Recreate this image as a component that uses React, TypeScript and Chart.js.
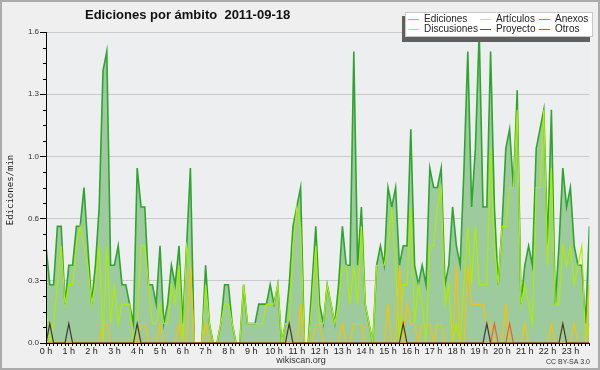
import React, { useEffect, useRef } from "react";
import { Chart, registerables } from "chart.js";

Chart.register(...registerables);

// One value per 10-minute slot (edits in the slot); shown as edits/min (slot / 10).
const HOUR_LABELS = [
  "0 h", "1 h", "2 h", "3 h", "4 h", "5 h", "6 h", "7 h", "8 h", "9 h", "10 h", "11 h",
  "12 h", "13 h", "14 h", "15 h", "16 h", "17 h", "18 h", "19 h", "20 h", "21 h", "22 h", "23 h",
];
const SLOTS_PER_HOUR = 6;
const Y_TICKS = [0, 0.32, 0.64, 0.96, 1.28, 1.6];
const Y_TICK_LABELS = ["0.0", "0.3", "0.6", "1.0", "1.3", "1.6"];

const ediciones = [
  5, 3, 3, 6, 6, 2, 4, 4, 6, 6,
  8, 5, 2, 4, 7, 14, 15, 4, 4, 5,
  3, 3, 2, 1, 9, 7, 7, 3, 3, 2,
  5, 1, 2, 4, 3, 5, 1, 5, 9, 0,
  0, 0, 4, 1, 0, 0, 1, 3, 3, 1,
  0, 0, 3, 1, 1, 1, 2, 2, 2, 3,
  2, 3, 0, 1, 3, 6, 7, 8, 0, 0,
  3, 6, 2, 1, 3, 2, 1, 3, 6, 4,
  4, 15, 4, 7, 2, 1, 0, 4, 5, 4,
  8, 7, 8, 4, 5, 5, 11, 4, 3, 4,
  3, 9, 8, 8, 9, 3, 4, 7, 5, 4,
  9, 15, 7, 10, 16, 7, 7, 15, 7, 3,
  6, 10, 11, 8, 13, 2, 4, 5, 4, 10,
  11, 12, 5, 12, 2, 5, 9, 7, 8, 5,
  4, 4, 1, 6,
];
const articulos = [
  2, 0, 1, 3, 5, 2, 3, 3, 5, 6,
  5, 4, 2, 3, 5, 0, 5, 1, 3, 1,
  2, 2, 2, 0, 1, 5, 5, 3, 1, 1,
  2, 1, 1, 3, 2, 4, 0, 5, 4, 0,
  0, 0, 3, 1, 0, 0, 1, 2, 2, 1,
  0, 0, 3, 1, 1, 1, 1, 1, 2, 2,
  2, 3, 0, 1, 1, 5, 7, 6, 0, 0,
  2, 5, 1, 1, 3, 2, 1, 2, 4, 4,
  2, 4, 2, 6, 2, 1, 0, 4, 4, 4,
  5, 7, 4, 0, 3, 3, 7, 1, 3, 2,
  0, 5, 5, 7, 8, 2, 3, 0, 1, 0,
  3, 6, 3, 6, 3, 3, 3, 10, 5, 3,
  6, 6, 8, 8, 12, 2, 3, 2, 1, 8,
  8, 12, 4, 9, 2, 2, 5, 4, 5, 3,
  4, 5, 0, 1,
];
const discusiones = [
  0, 0, 0, 0, 0, 0, 0, 0, 0, 0,
  0, 0, 0, 0, 0, 1, 1, 0, 0, 0,
  0, 0, 0, 0, 0, 1, 1, 0, 0, 0,
  1, 0, 0, 0, 0, 1, 0, 0, 4, 0,
  0, 0, 1, 0, 0, 0, 0, 0, 0, 0,
  0, 0, 0, 0, 0, 0, 0, 0, 0, 0,
  0, 0, 0, 0, 1, 0, 0, 2, 0, 0,
  0, 1, 1, 0, 0, 0, 0, 0, 1, 0,
  0, 1, 1, 1, 0, 0, 0, 0, 0, 0,
  2, 0, 0, 4, 0, 2, 1, 1, 0, 1,
  1, 1, 0, 1, 1, 0, 0, 0, 4, 0,
  0, 4, 2, 2, 2, 2, 1, 1, 0, 0,
  0, 2, 0, 0, 0, 0, 1, 0, 0, 0,
  0, 0, 0, 1, 0, 0, 1, 0, 0, 1,
  0, 0, 0, 3,
];
const proyecto = [
  0, 1, 0, 0, 0, 0, 1, 0, 0, 0,
  0, 0, 0, 0, 0, 0, 0, 0, 0, 0,
  0, 0, 0, 0, 1, 0, 0, 0, 0, 0,
  0, 0, 0, 0, 0, 0, 0, 0, 0, 0,
  0, 0, 0, 0, 0, 0, 0, 0, 0, 0,
  0, 0, 0, 0, 0, 0, 0, 0, 0, 0,
  0, 0, 0, 0, 1, 0, 0, 0, 0, 0,
  0, 0, 0, 0, 0, 0, 0, 0, 0, 0,
  0, 0, 0, 0, 0, 0, 0, 0, 0, 0,
  0, 0, 0, 0, 1, 0, 0, 0, 0, 0,
  0, 0, 0, 0, 0, 0, 0, 0, 0, 0,
  0, 0, 0, 0, 0, 0, 1, 0, 0, 0,
  0, 0, 0, 0, 0, 0, 0, 0, 0, 0,
  0, 0, 0, 0, 0, 0, 1, 0, 0, 0,
  0, 0, 0, 0,
];
const anexos = [
  0, 0, 0, 0, 0, 0, 0, 0, 0, 0,
  0, 0, 0, 0, 0, 0, 0, 0, 0, 0,
  0, 0, 0, 0, 0, 0, 0, 0, 0, 0,
  0, 0, 0, 0, 0, 0, 0, 0, 0, 0,
  0, 0, 0, 0, 0, 0, 0, 0, 0, 0,
  0, 0, 0, 0, 0, 0, 0, 0, 0, 0,
  0, 0, 0, 0, 0, 0, 0, 0, 0, 0,
  0, 0, 0, 0, 0, 0, 0, 0, 0, 0,
  0, 0, 0, 0, 0, 0, 0, 0, 0, 0,
  0, 0, 0, 0, 0, 0, 0, 0, 0, 0,
  0, 0, 0, 0, 0, 0, 0, 0, 0, 0,
  0, 0, 0, 0, 0, 0, 0, 0, 1, 0,
  0, 0, 1, 0, 0, 0, 0, 0, 0, 0,
  0, 0, 0, 0, 0, 0, 0, 0, 0, 0,
  0, 0, 0, 0,
];
const otros = [
  0, 0, 0, 0, 0, 0, 0, 0, 0, 0,
  0, 0, 0, 0, 0, 0, 0, 0, 0, 0,
  0, 0, 0, 0, 0, 0, 0, 0, 0, 0,
  0, 0, 0, 0, 0, 0, 0, 0, 0, 0,
  0, 0, 0, 0, 0, 0, 0, 0, 0, 0,
  0, 0, 0, 0, 0, 0, 0, 0, 0, 0,
  0, 0, 0, 0, 0, 0, 0, 0, 0, 0,
  0, 0, 0, 0, 0, 0, 0, 0, 0, 0,
  0, 0, 0, 0, 0, 0, 0, 0, 0, 0,
  0, 0, 0, 0, 0, 0, 0, 0, 0, 0,
  0, 0, 0, 0, 0, 0, 0, 0, 0, 0,
  0, 0, 0, 0, 0, 0, 0, 0, 0, 0,
  0, 0, 0, 0, 0, 0, 0, 0, 0, 0,
  0, 0, 0, 0, 0, 0, 0, 0, 0, 0,
  0, 0, 0, 0,
];

const TITLE = "Ediciones por ámbito  2011-09-18";
const Y_TITLE = "Ediciones/min";
const FOOTER = "wikiscan.org";
const LICENSE = "CC BY-SA 3.0";

const SERIES = [
  { label: "Ediciones", data: ediciones, color: "#2ea52e", swatch: "#7ccc7c", width: 1.6, order: 9 },
  { label: "Artículos", data: articulos, color: "#aaee00", swatch: "#c4ee44", width: 1.2, order: 8 },
  { label: "Discusiones", data: discusiones, color: "#f5c400", swatch: "#f8d040", width: 1.2, order: 7 },
  { label: "Proyecto", data: proyecto, color: "#3a3a3a", swatch: "#555555", width: 1.2, order: 5 },
  { label: "Anexos", data: anexos, color: "#f06020", swatch: "#f07040", width: 1.2, order: 6 },
  { label: "Otros", data: otros, color: "#9040e0", swatch: "#9a4ee6", width: 1.2, order: 10 },
];
const LEGEND_ORDER = ["Ediciones", "Artículos", "Anexos", "Discusiones", "Proyecto", "Otros"];

const SANS = "'Liberation Sans', Arial, sans-serif";

const decorPlugin = {
  id: "decor",
  beforeDraw(chart: any) {
    const { ctx, width, height, chartArea: a } = chart;
    ctx.save();
    ctx.fillStyle = "#efefef";
    ctx.fillRect(0, 0, width, height);
    ctx.fillStyle = "#eceef0";
    ctx.fillRect(a.left, a.top, a.right - a.left, a.bottom - a.top);
    ctx.strokeStyle = "#ababab";
    ctx.lineWidth = 2;
    ctx.strokeRect(1, 1, width - 2, height - 2);
    ctx.restore();
  },
  afterDraw(chart: any) {
    const { ctx, chartArea: a } = chart;
    const ys = chart.scales.y;
    ctx.save();
    // y axis line over the fill
    ctx.strokeStyle = "#000";
    ctx.lineWidth = 1;
    ctx.beginPath();
    ctx.moveTo(Math.round(a.left) + 0.5, a.top);
    ctx.lineTo(Math.round(a.left) + 0.5, a.bottom);
    ctx.stroke();
    // minor y ticks (4 sub-steps per labelled step)
    for (let k = 0; k < Y_TICKS.length - 1; k++) {
      for (let s = 1; s < 4; s++) {
        const v = Y_TICKS[k] + ((Y_TICKS[k + 1] - Y_TICKS[k]) * s) / 4;
        const py = Math.round(ys.getPixelForValue(v)) + 0.5;
        ctx.beginPath();
        ctx.moveTo(a.left - 3, py);
        ctx.lineTo(a.left, py);
        ctx.stroke();
      }
    }
    // title
    ctx.fillStyle = "#111";
    ctx.font = `bold 13px ${SANS}`;
    ctx.textBaseline = "alphabetic";
    ctx.textAlign = "left";
    ctx.fillText(TITLE, 85, 19);
    // y title
    ctx.save();
    ctx.translate(11, 190);
    ctx.rotate(-Math.PI / 2);
    ctx.font = "9px 'DejaVu Sans Mono', monospace";
    ctx.textAlign = "center";
    ctx.textBaseline = "middle";
    ctx.fillStyle = "#222";
    ctx.fillText(Y_TITLE, 0, 0);
    ctx.restore();
    // footer
    ctx.font = `9px ${SANS}`;
    ctx.fillStyle = "#333";
    ctx.textAlign = "center";
    ctx.textBaseline = "middle";
    ctx.fillText(FOOTER, 301, 361);
    ctx.font = `7px ${SANS}`;
    ctx.textAlign = "right";
    ctx.fillText(LICENSE, 590, 362);
    // legend
    const bx = 405, by = 12, bw = 188, bh = 25;
    ctx.fillStyle = "#606060";
    ctx.fillRect(bx - 3, by + 4, bw, bh + 1);
    ctx.fillStyle = "#ffffff";
    ctx.fillRect(bx, by, bw, bh);
    ctx.strokeStyle = "#c8c8c8";
    ctx.lineWidth = 1;
    ctx.strokeRect(bx + 0.5, by + 0.5, bw - 1, bh - 1);
    const colX = [408, 480, 539];
    const rowY = [19, 29];
    ctx.font = `10px ${SANS}`;
    ctx.textAlign = "left";
    ctx.textBaseline = "middle";
    LEGEND_ORDER.forEach((name, idx) => {
      const s = SERIES.find((d) => d.label === name)!;
      const cx = colX[idx % 3];
      const cy = rowY[Math.floor(idx / 3)];
      ctx.strokeStyle = s.swatch;
      ctx.lineWidth = 1;
      ctx.beginPath();
      ctx.moveTo(cx, cy + 0.5);
      ctx.lineTo(cx + 11, cy + 0.5);
      ctx.stroke();
      ctx.fillStyle = "#222";
      ctx.fillText(name, cx + 16, cy + 0.5);
    });
    ctx.restore();
  },
};

export default function App() {
  const ref = useRef<HTMLCanvasElement>(null);
  useEffect(() => {
    document.body.style.margin = "0";
    const canvas = ref.current!;
    const toXY = (arr: number[]) => arr.map((n, i) => ({ x: i, y: n / 10 }));
    const lastSlot = ediciones.length - 1;
    const chart = new Chart(canvas, {
      type: "line",
      data: {
        datasets: SERIES.map((s) => ({
          label: s.label,
          data: toXY(s.data),
          borderColor: s.color,
          borderWidth: s.width,
          backgroundColor: s.label === "Ediciones" ? "#9dcb9d" : "transparent",
          fill: s.label === "Ediciones" ? "origin" : false,
          pointRadius: 0,
          tension: 0,
          order: s.order,
        })),
      },
      options: {
        animation: false,
        responsive: false,
        devicePixelRatio: 1,
        events: [],
        layout: { padding: { left: 0, right: 10.6, top: 32, bottom: 0 } },
        plugins: {
          legend: { display: false },
          tooltip: { enabled: false },
          title: { display: false },
        },
        scales: {
          x: {
            type: "linear",
            min: 0,
            max: lastSlot,
            z: 1,
            afterBuildTicks: (s: any) => {
              s.ticks = ediciones.map((_, i) => ({ value: i }));
            },
            afterFit: (s: any) => {
              s.height = 27;
            },
            ticks: {
              autoSkip: false,
              maxRotation: 0,
              padding: 0,
              color: "#222",
              font: { family: SANS, size: 9 },
              callback: (v: any) =>
                Number(v) % SLOTS_PER_HOUR === 0 ? HOUR_LABELS[Number(v) / SLOTS_PER_HOUR] : "",
            },
            grid: {
              drawOnChartArea: false,
              drawTicks: true,
              tickLength: 3,
              tickColor: "#000",
              tickWidth: 1,
            },
            border: { display: true, color: "#000", width: 1 },
          },
          y: {
            min: 0,
            max: 1.6,
            afterBuildTicks: (s: any) => {
              s.ticks = Y_TICKS.map((v) => ({ value: v }));
            },
            afterFit: (s: any) => {
              s.width = 46;
            },
            ticks: {
              padding: 1,
              color: "#333",
              font: { family: SANS, size: 8 },
              callback: (_v: any, idx: number) => Y_TICK_LABELS[idx],
            },
            grid: {
              color: "#c9c9c9",
              lineWidth: 1,
              drawTicks: true,
              tickLength: 6,
              tickColor: "#000",
            },
            border: { display: true, color: "#000", width: 1 },
          },
        },
      },
      plugins: [decorPlugin],
    });
    return () => chart.destroy();
  }, []);
  return <canvas ref={ref} width={600} height={370} style={{ display: "block" }} />;
}
